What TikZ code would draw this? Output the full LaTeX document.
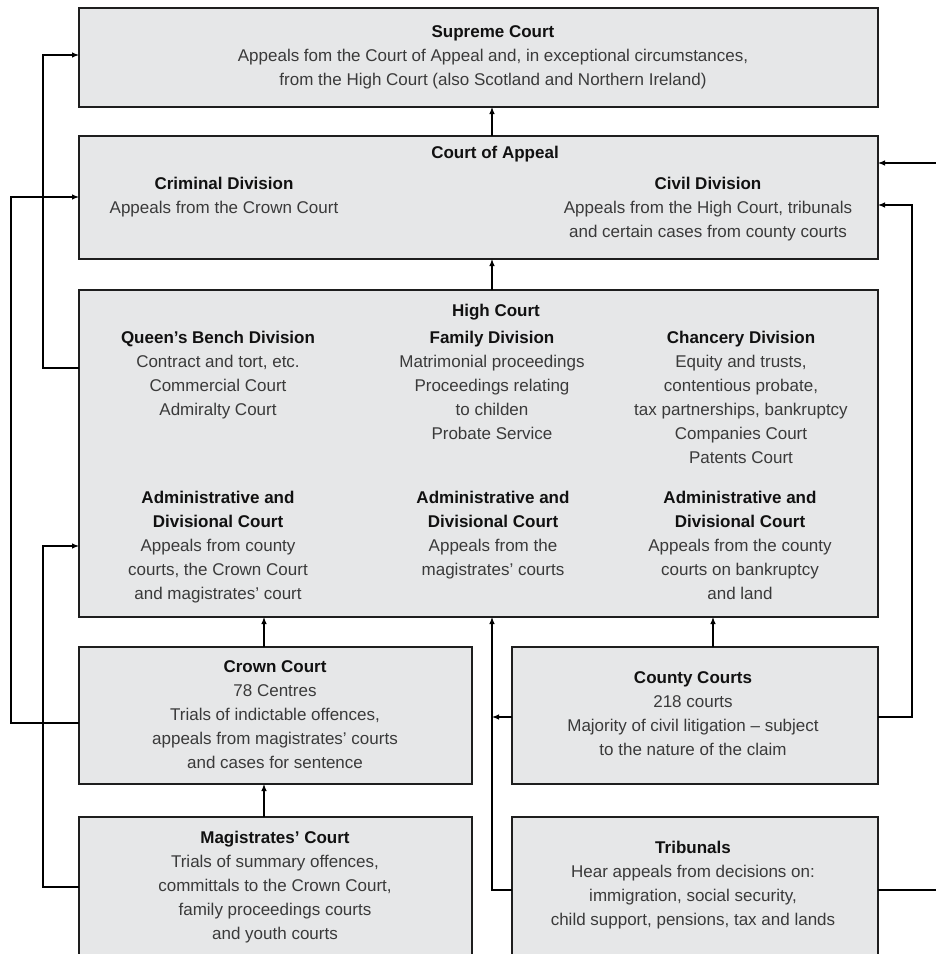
\documentclass[tikz,border=0pt]{standalone}
\usepackage{fontspec}
\setmainfont{Liberation Sans}
\usetikzlibrary{arrows.meta}
\definecolor{boxfill}{HTML}{E6E7E8}
\definecolor{boxline}{HTML}{1E1E1E}
\definecolor{bodytext}{HTML}{3A3A3A}
\definecolor{headtext}{HTML}{111111}
\newcommand\courthead[1]{{\bfseries\color{headtext}#1}}
\begin{document}
\begin{tikzpicture}[x=1pt,y=-1pt,
  courtbox/.style={draw=boxline, line width=1.4pt, fill=boxfill,
    inner sep=0pt, outer sep=0pt, rectangle},
  txt/.style={align=center, inner sep=0pt, anchor=north,
    font=\fontsize{17}{24}\selectfont, text=bodytext},
  link/.style={line width=1.1pt, draw=black},
  arr/.style={link, -{Latex[length=7pt,width=5.5pt]}}]
\useasboundingbox (0,0) rectangle (936,954);
\clip (0,0) rectangle (936,954);

% court boxes
\node[courtbox, minimum width=799, minimum height=99]  (sup)    at (478.5,57.5)  {};
\node[courtbox, minimum width=799, minimum height=123] (coa)    at (478.5,197.5) {};
\node[courtbox, minimum width=799, minimum height=327] (hc)     at (478.5,453.5) {};
\node[courtbox, minimum width=393, minimum height=137] (crown)  at (275.5,715.5) {};
\node[courtbox, minimum width=366, minimum height=137] (county) at (695,715.5)   {};
\node[courtbox, minimum width=393, minimum height=173] (mag)    at (275.5,903.5) {};
\node[courtbox, minimum width=366, minimum height=173] (trib)   at (695,903.5)   {};

% texts
\node[txt] (supT) at (493,25) {\courthead{Supreme Court}\\Appeals fom the Court of Appeal and, in exceptional circumstances,\\from the High Court (also Scotland and Northern Ireland)};
\node[txt] (coaT) at (495,146) {\courthead{Court of Appeal}};
\node[txt] (crimT) at (224,177) {\courthead{Criminal Division}\\Appeals from the Crown Court};
\node[txt] (civT) at (708,177) {\courthead{Civil Division}\\Appeals from the High Court, tribunals\\and certain cases from county courts};
\node[txt] (hcT) at (496,304) {\courthead{High Court}};
\node[txt] (qbT) at (218,331) {\courthead{Queen’s Bench Division}\\Contract and tort, etc.\\Commercial Court\\Admiralty Court};
\node[txt] (famT) at (492,331) {\courthead{Family Division}\\Matrimonial proceedings\\Proceedings relating\\to childen\\Probate Service};
\node[txt] (chT) at (741,331) {\courthead{Chancery Division}\\Equity and trusts,\\contentious probate,\\tax partnerships, bankruptcy\\Companies Court\\Patents Court};
\node[txt] (admA) at (218,491) {\courthead{Administrative and}\\\courthead{Divisional Court}\\Appeals from county\\courts, the Crown Court\\and magistrates’ court};
\node[txt] (admB) at (493,491) {\courthead{Administrative and}\\\courthead{Divisional Court}\\Appeals from the\\magistrates’ courts};
\node[txt] (admC) at (740,491) {\courthead{Administrative and}\\\courthead{Divisional Court}\\Appeals from the county\\courts on bankruptcy\\and land};
\node[txt] (crownT) at (275,660) {\courthead{Crown Court}\\78 Centres\\Trials of indictable offences,\\appeals from magistrates’ courts\\and cases for sentence};
\node[txt] (countyT) at (693,671) {\courthead{County Courts}\\218 courts\\Majority of civil litigation – subject\\to the nature of the claim};
\node[txt] (magT) at (275,831) {\courthead{Magistrates’ Court}\\Trials of summary offences,\\committals to the Crown Court,\\family proceedings courts\\and youth courts};
\node[txt] (tribT) at (693,841) {\courthead{Tribunals}\\Hear appeals from decisions on:\\immigration, social security,\\child support, pensions, tax and lands};

% routing columns and rows
\coordinate (midx) at (492,0);
\coordinate (crownx) at (264,0);
\coordinate (countyx) at (713,0);
\coordinate (outerL) at (11,0);
\coordinate (innerL) at (43,0);
\coordinate (outerR) at (912,0);
\coordinate (edgeR) at (936,0);
\coordinate (supY) at (0,55);
\coordinate (coaTopY) at (0,163);
\coordinate (coaLY) at (0,197);
\coordinate (coaRY) at (0,205);
\coordinate (qbY) at (0,368);
\coordinate (hcLY) at (0,546);
\coordinate (countyY) at (0,717);
\coordinate (crownY) at (0,723);
\coordinate (magY) at (0,887);
\coordinate (tribY) at (0,890);

% upward appeals between stacked courts
\draw[arr] (coa.north -| midx) -- (sup.south -| midx);
\draw[arr] (hc.north -| midx) -- (coa.south -| midx);
\draw[arr] (crown.north -| crownx) -- (hc.south -| crownx);
\draw[arr] (mag.north -| crownx) -- (crown.south -| crownx);
\draw[arr] (county.north -| countyx) -- (hc.south -| countyx);

% side routes
\draw[arr] (hc.west |- qbY) -| (innerL |- supY) -- (sup.west |- supY);
\draw[arr] (crown.west |- crownY) -| (outerL |- coaLY) -- (coa.west |- coaLY);
\draw[arr] (mag.west |- magY) -| (innerL |- hcLY) -- (hc.west |- hcLY);
\draw[arr] (county.east |- countyY) -| (outerR |- coaRY) -- (coa.east |- coaRY);
\draw[arr] (edgeR |- coaTopY) -- (coa.east |- coaTopY);
\draw[link] (trib.east |- tribY) -- (edgeR |- tribY);
\draw[arr] (trib.west |- tribY) -| (hc.south -| midx);
\draw[arr] (county.west |- countyY) -- (midx |- countyY);
\end{tikzpicture}
\end{document}
